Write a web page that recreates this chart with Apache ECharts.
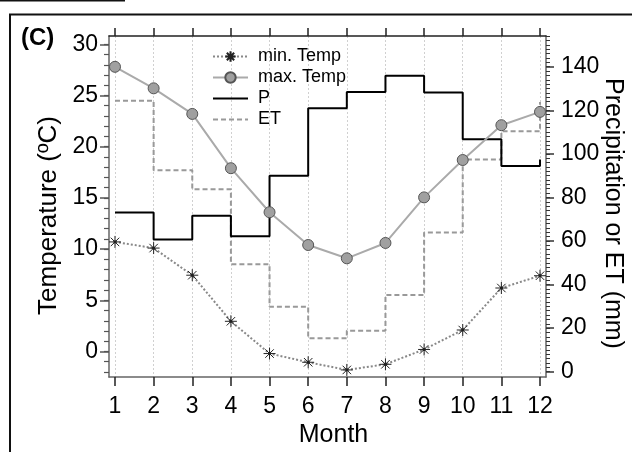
<!DOCTYPE html>
<html>
<head>
<meta charset="utf-8">
<script src="https://cdn.jsdelivr.net/npm/echarts@6/dist/echarts.min.js"></script>
<style>
html,body{margin:0;padding:0;background:#fff;}
#chart{width:632px;height:452px;}
</style>
</head>
<body>
<div id="chart"></div>
<script>
const months = [1,2,3,4,5,6,7,8,9,10,11,12];
const minTemp = [10.7, 10.1, 7.45, 2.95, -0.2, -1.05, -1.8, -1.25, 0.2, 2.1, 6.2, 7.4];
const maxTemp = [27.8, 25.7, 23.2, 17.9, 13.6, 10.4, 9.1, 10.6, 15.05, 18.7, 22.1, 23.4];
const precip = [73.1, 60.7, 71.6, 62.2, 89.9, 120.9, 128.4, 135.8, 128.2, 106.7, 94.4, 97.4];
const et = [124.4, 92.5, 83.8, 49.3, 29.8, 15.4, 18.8, 35.2, 63.9, 97.4, 110.4, 123.8];
const tempTicks = [0,5,10,15,20,25,30];
const mmTicks = [0,20,40,60,80,100,120,140];

const pair = arr => months.map((m,i)=>[m, arr[i]]);
const range = (a,b,s)=>{const r=[];for(let v=a;v<=b+1e-9;v+=s)r.push(+v.toFixed(6));return r;};

const FONT = 'Liberation Sans, Arial, sans-serif';
const chart = echarts.init(document.getElementById('chart'));
const starPath = 'path://M0,-10L0,10M-10,0L10,0M-7.07,-7.07L7.07,7.07M-7.07,7.07L7.07,-7.07M-1.6,-1.6L1.6,-1.6L1.6,1.6L-1.6,1.6Z';

chart.setOption({
  animation:false,
  textStyle:{fontFamily:FONT,color:'#000'},
  grid:{left:109,right:86,top:36,bottom:75,containLabel:false,outerBoundsMode:'none'},
  legend:{
    orient:'vertical', left:207, top:42, itemWidth:35, itemHeight:13, itemGap:2,
    textStyle:{fontFamily:FONT,fontSize:18,color:'#000',lineHeight:19,padding:[0,0,0,5]},
    data:['min. Temp','max. Temp','P','ET']
  },
  xAxis:[{
    type:'value', min:0.845, max:12.155, position:'bottom',
    name:'Month', nameLocation:'middle', nameGap:45,
    nameTextStyle:{fontFamily:FONT,fontSize:25,color:'#000',padding:[0,0,0,12]},
    axisLine:{show:true,onZero:false,lineStyle:{color:'#666',width:1.5}},
    axisTick:{show:true,inside:false,length:9,customValues:months,lineStyle:{color:'#222',width:1.5}},
    axisLabel:{show:true,customValues:months,margin:18,fontSize:23,color:'#000',fontFamily:FONT},
    splitLine:{show:true,lineStyle:{color:'#d0d0d0',type:[2,2],width:1}}
  },{
    type:'value', min:0.845, max:12.155, position:'top',
    axisLine:{show:true,onZero:false,lineStyle:{color:'#222',width:1.5}},
    axisTick:{show:true,inside:false,length:8,customValues:months,lineStyle:{color:'#222',width:1.5}},
    axisLabel:{show:false},
    splitLine:{show:false}
  }],
  yAxis:[{
    type:'value', min:-2.49, max:30.81, position:'left',
    name:'Temperature (ºC)', nameLocation:'middle', nameGap:46,
    nameTextStyle:{fontFamily:FONT,fontSize:26,color:'#000',padding:[0,18,0,0]},
    axisLine:{show:true,onZero:false,lineStyle:{color:'#666',width:1.5}},
    axisTick:{show:true,length:9,customValues:tempTicks,lineStyle:{color:'#555',width:1.5}},
    axisLabel:{show:true,customValues:tempTicks,margin:11,fontSize:23,color:'#000',fontFamily:FONT},
    splitLine:{show:false}
  },{
    type:'value', min:-2.49, max:30.81, position:'left',
    axisLine:{show:false},
    axisTick:{show:true,length:5,customValues:range(-2,30,1),lineStyle:{color:'#555',width:1.2}},
    axisLabel:{show:false},
    splitLine:{show:false}
  },{
    type:'value', min:-2.43, max:154.1, position:'right',
    name:'Precipitation or ET (mm)', nameLocation:'middle', nameGap:54, nameRotate:-90,
    nameMoveOverlap:false,
    nameTextStyle:{fontFamily:FONT,fontSize:25,color:'#000',padding:[0,0,0,14]},
    axisLine:{show:true,onZero:false,lineStyle:{color:'#666',width:1.5}},
    axisTick:{show:true,length:8,customValues:mmTicks,lineStyle:{color:'#333',width:1.5}},
    axisLabel:{show:true,customValues:mmTicks,margin:15,fontSize:23,color:'#000',fontFamily:FONT},
    splitLine:{show:false}
  },{
    type:'value', min:-2.43, max:154.1, position:'right',
    axisLine:{show:false},
    axisTick:{show:true,length:4,customValues:range(0,154,2),lineStyle:{color:'#333',width:1}},
    axisLabel:{show:false},
    splitLine:{show:false}
  }],
  series:[{
    name:'min. Temp', type:'line', xAxisIndex:0, yAxisIndex:0, data:pair(minTemp),
    symbol:starPath, symbolSize:12,
    itemStyle:{color:'#000',borderColor:'#222',borderWidth:1},
    lineStyle:{color:'#888',width:2,type:[2,2]},
    z:5
  },{
    name:'max. Temp', type:'line', xAxisIndex:0, yAxisIndex:0, data:pair(maxTemp),
    symbol:'circle', symbolSize:11,
    itemStyle:{color:'#a0a0a0',borderColor:'#555',borderWidth:1},
    lineStyle:{color:'#aaaaaa',width:2},
    z:5
  },{
    name:'P', type:'line', xAxisIndex:0, yAxisIndex:2, data:pair(precip),
    step:'end', symbol:'circle', showSymbol:false,
    itemStyle:{color:'rgba(0,0,0,0)',borderWidth:0},
    lineStyle:{color:'#000',width:2}, z:4
  },{
    name:'ET', type:'line', xAxisIndex:0, yAxisIndex:2, data:pair(et),
    step:'end', symbol:'circle', showSymbol:false,
    itemStyle:{color:'rgba(0,0,0,0)',borderWidth:0},
    lineStyle:{color:'#999',width:2,type:[5,3]}, z:3
  }],
  graphic:[{
    type:'polyline', silent:true,
    shape:{points:[[10,452],[10,14.5],[632,14.5]]},
    style:{stroke:'#111',lineWidth:2,fill:null}
  },{
    type:'line', silent:true,
    shape:{x1:0,y1:0.5,x2:125,y2:0.5},
    style:{stroke:'#111',lineWidth:2}
  },{
    type:'text', left:21, top:26,
    style:{text:'(C)',fontFamily:FONT,fontSize:24,fontWeight:'bold',fill:'#000'}
  }]
});
</script>
</body>
</html>
